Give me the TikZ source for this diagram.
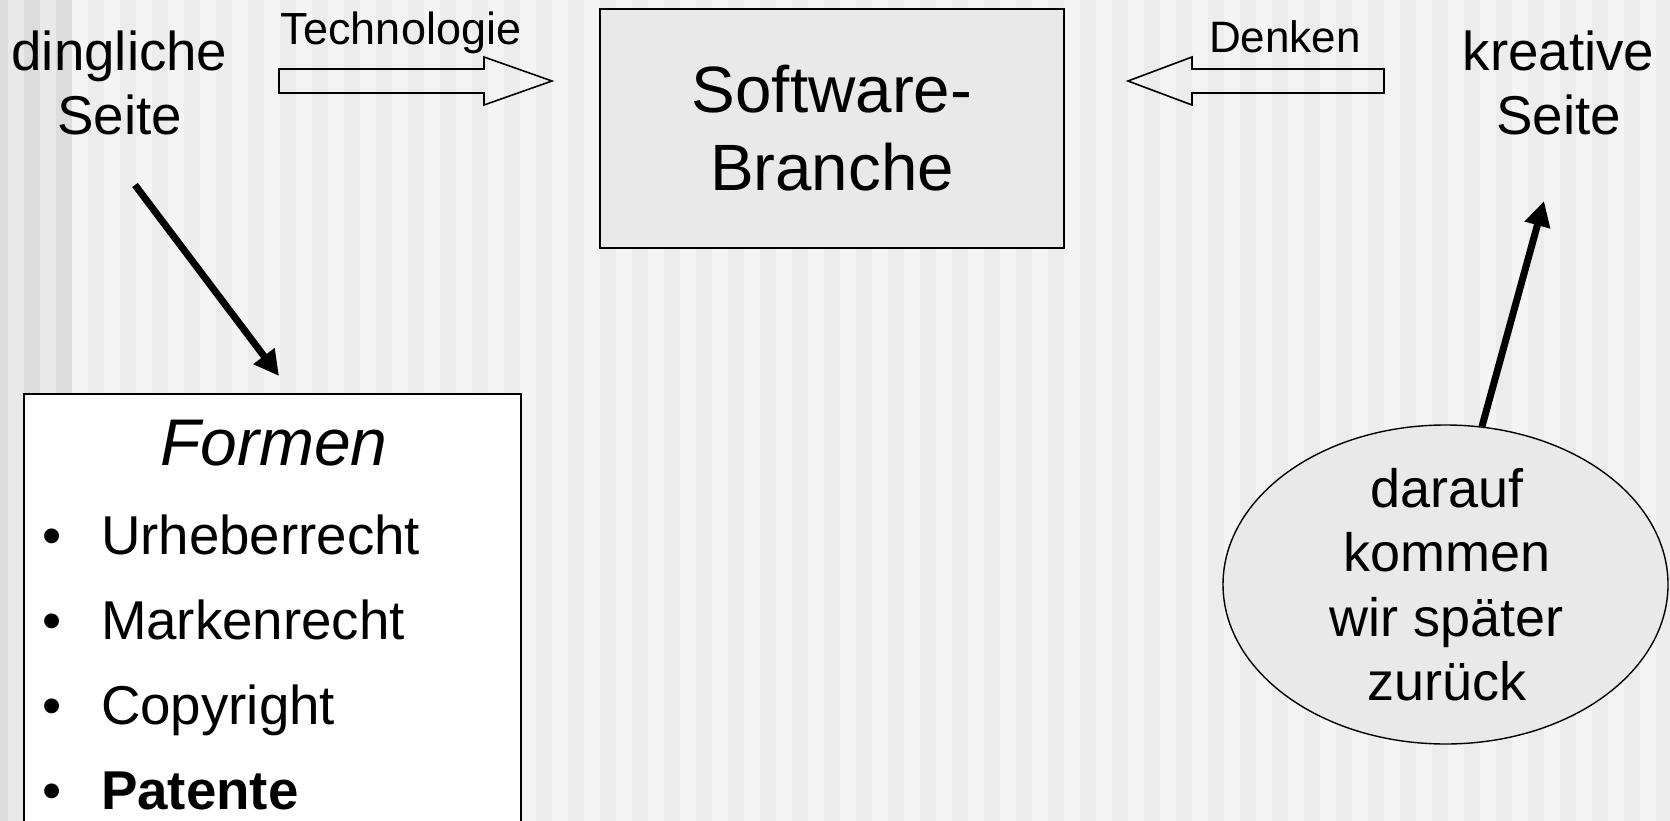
\documentclass[tikz,border=0pt]{standalone}
\usepackage{fontspec}
\setmainfont{Liberation Sans}
\usetikzlibrary{arrows.meta,shapes.geometric}
\definecolor{stripeA}{HTML}{F4F4F4}
\definecolor{stripeB}{HTML}{ECECEC}
\definecolor{edgeA}{HTML}{E9E9E9}
\definecolor{edgeB}{HTML}{DCDCDC}
\definecolor{panel}{HTML}{E9E9E9}
\begin{document}
\begin{tikzpicture}[x=1pt,y=-1pt,
  lbl/.style={inner sep=0pt, outer sep=0pt, align=center},
  bigtext/.style={font=\fontsize{54.7}{64}\selectfont},
  smalltext/.style={font=\fontsize{44}{50}\selectfont},
  titletext/.style={font=\fontsize{65.5}{78}\selectfont},
  blockarrow/.style={draw=black, line width=1.6pt, line join=miter},
  heavyarrow/.style={line width=7pt, -{Triangle[length=25pt,width=25pt]}},
]
\useasboundingbox (0,0) rectangle (1670,821);
\begin{scope}
  \clip (0,0) rectangle (1670,821);
  % striped backdrop
  \fill[stripeA] (0,0) rectangle (1670,821);
  \foreach \k in {0,...,49} {\fill[stripeB] ({88+32*\k},0) rectangle ({104+32*\k},821);}
  \fill[edgeA] (0,0) rectangle (72,821);
  \foreach \k in {0,1,2} {\fill[edgeB] ({-8+32*\k},0) rectangle ({8+32*\k},821);}

  % central box
  \node[draw, line width=2pt, fill=panel, minimum width=464pt, minimum height=239pt,
        lbl, titletext] (sw) at (832,128.5) {Software-\\Branche};

  % the two sides (base = baseline of the last line)
  \node[lbl, bigtext, anchor=base] (dingl) at (119.5,135) {dingliche\\Seite};
  \node[lbl, bigtext, anchor=base] (kreat) at (1558.5,135) {kreative\\Seite};

  % hollow block arrows with their labels
  \draw[blockarrow] (279,69) -- (484,69) -- (484,57) -- (552,81) -- (484,105) -- (484,93) -- (279,93) -- cycle;
  \node[lbl, font=\fontsize{45}{50}\selectfont, anchor=base] (tech) at (401,45) {Technologie};
  \draw[blockarrow] (1384,69) -- (1192,69) -- (1192,57) -- (1128,81) -- (1192,105) -- (1192,93) -- (1384,93) -- cycle;
  \node[lbl, smalltext, anchor=base] (denk) at (1285,53) {Denken};

  % list of forms
  \node[draw, line width=2pt, fill=white, minimum width=496.6pt, minimum height=447pt,
        anchor=north west, inner sep=0pt] (formen) at (23.4,393) {};
  \node[lbl, font=\fontsize{66}{66}\selectfont\itshape, anchor=base] (ftitle) at (274,465) {Formen};
  \foreach \y/\t [count=\i] in {554/Urheberrecht, 639/Markenrecht, 724/Copyright, 809/\textbf{Patente}} {
    \node[lbl, bigtext, anchor=base] (bul\i) at (51.7,\y) {\textbullet};
    \node[lbl, bigtext, anchor=base west] (item\i) at (101,\y) {\t};
  }

  % later remark
  \node[ellipse, draw, line width=1.4pt, fill=panel, minimum width=445pt,
        minimum height=319pt, inner sep=0pt] (later) at (1445.5,584.5) {};
  \node[lbl, font=\fontsize{54}{64.5}\selectfont] (latertxt) at (1447,584.5) {darauf\\kommen\\wir später\\zurück};

  % heavy arrows
  \coordinate (dfrom) at (135,185);
  \coordinate (fto) at (279,376);
  \draw[heavyarrow] (dfrom) -- (fto);
  \coordinate (kto) at (1544,201);
  \draw[heavyarrow] (later.77.6) -- (kto);
\end{scope}
\end{tikzpicture}
\end{document}
